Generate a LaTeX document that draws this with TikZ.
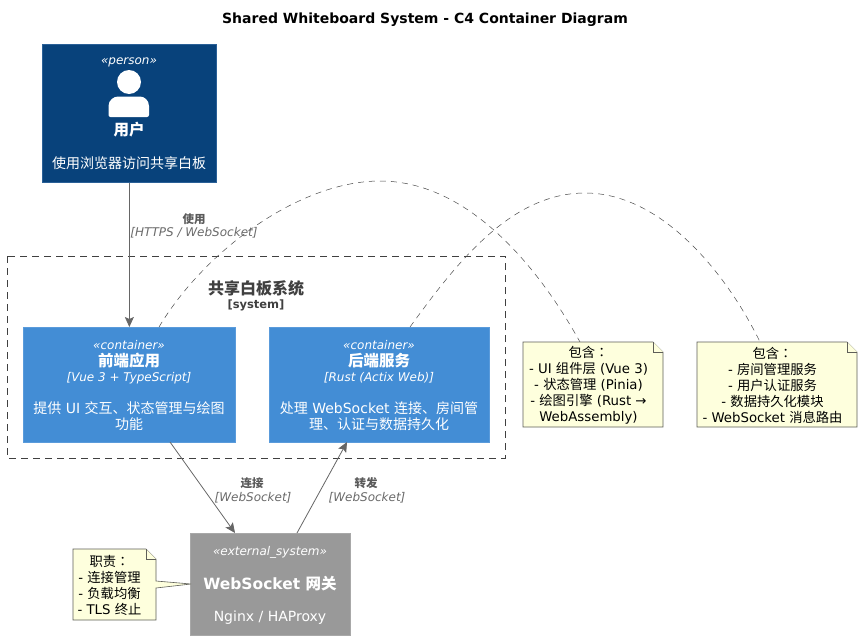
\documentclass[tikz,border=0pt]{standalone}
\usepackage{fontspec}
\usetikzlibrary{arrows.meta}
\setmainfont{DejaVu Sans}
\newfontfamily\cjkfam{Noto Sans CJK SC}
\newfontfamily\cjktc{Noto Sans CJK TC}
\newcommand{\zh}[1]{{\cjkfam #1}}
\newcommand{\zc}{{\cjktc ：}}
\newcommand{\fs}[1]{\fontsize{#1}{#1}\selectfont}
\definecolor{personc}{HTML}{08427B}
\definecolor{personb}{HTML}{2A6097}
\definecolor{contc}{HTML}{438DD5}
\definecolor{contb}{HTML}{5A9BDB}
\definecolor{extc}{HTML}{999999}
\definecolor{extb}{HTML}{A8A8A8}
\definecolor{notec}{HTML}{FEFFDD}
\definecolor{noteb}{HTML}{5E5E58}
\definecolor{linec}{HTML}{666666}
\definecolor{labc}{HTML}{5A5A5A}
\tikzset{
  x=1pt,y=-1pt,
  box/.style={draw=#1,line width=0.7pt,inner sep=0pt},
  txt/.style={inner sep=0pt,anchor=center,text=white,align=center},
  stereo/.style={txt,font=\fs{12}\itshape},
  head/.style={txt,font=\fs{15.5}\bfseries},
  tech/.style={txt,font=\fs{12}\itshape},
  desc/.style={txt,font=\fs{14},text=white},
  lab/.style={inner sep=0pt,text=labc,font=\fs{11.5}\bfseries},
  labi/.style={inner sep=0pt,text=labc!90!white,font=\fs{12}\itshape},
  rel/.style={draw=linec,line width=0.8pt,-{Stealth[length=10pt,width=9pt,inset=2pt,fill=linec]}},
  notel/.style={draw=black!70,line width=0.5pt,dash pattern=on 6pt off 5pt},
  notebox/.style={draw=noteb,fill=notec,line width=0.6pt},
  notet/.style={inner sep=0pt,align=center,text=black,font=\fontsize{13.3}{16}\selectfont},
}
\begin{document}
\begin{tikzpicture}
\useasboundingbox (0,0) rectangle (862,640);
\fill[white] (0,0) rectangle (862,640);
\node[inner sep=0pt,font=\fs{14}\bfseries] (title) at (425,19.5) {Shared Whiteboard System - C4 Container Diagram};

% boundary
\draw[draw=black!75,line width=0.8pt,dash pattern=on 7pt off 5pt] (7,256) rectangle (505,458);
\node[inner sep=0pt,text=black!75,font=\fs{16}\bfseries] (bt) at (256,288) {\zh{共享白板系统}};
\node[inner sep=0pt,text=black!75,font=\fs{11.5}\bfseries] (bs) at (256,305) {[system]};

% boxes
\node[box=personb,fill=personc,minimum width=174pt,minimum height=138pt,anchor=north west] (user) at (42,44) {};
\node[box=contb,fill=contc,minimum width=212pt,minimum height=115pt,anchor=north west] (front) at (23,327) {};
\node[box=contb,fill=contc,minimum width=220pt,minimum height=115pt,anchor=north west] (back) at (269,327) {};
\node[box=extb,fill=extc,minimum width=160pt,minimum height=102pt,anchor=north west] (gw) at (190,533) {};

% note shapes
\coordinate (n1a) at (580,342);
\coordinate (n2a) at (760,342);
\coordinate (fa) at (159,327);
\coordinate (ba) at (410,327);
\draw[notel] (fa) .. controls (205,250) and (300,181) .. (380,181) .. controls (470,181) and (540,270) .. (n1a);
\draw[notel] (ba) .. controls (455,265) and (510,193) .. (585,193) .. controls (665,193) and (730,280) .. (n2a);

\draw[notebox] (523,342) -- (653,342) -- (663,352) -- (663,427) -- (523,427) -- cycle;
\draw[notebox] (653,342) -- (653,352) -- (663,352);
\draw[notebox] (697,342) -- (847,342) -- (857,352) -- (857,427) -- (697,427) -- cycle;
\draw[notebox] (847,342) -- (847,352) -- (857,352);
\draw[notebox] (73,549) -- (146,549) -- (156,559) -- (156,581) -- (191,584) -- (156,588) -- (156,620) -- (73,620) -- cycle;
\draw[notebox] (146,549) -- (146,559) -- (156,559);

% person icon
\fill[white] (129,82) circle (12);
\fill[white,rounded corners=2pt] (108.5,117) -- (108.5,108) .. controls (108.5,100) and (114,96.5) .. (120,96.5) -- (138,96.5) .. controls (144,96.5) and (149,100) .. (149,108) -- (149,117) -- cycle;

% box text
\node[stereo] (t1) at (129,62) {«person»};
\node[head] (t2) at (129,129.5) {\zh{用户}};
\node[desc] (t3) at (129,163) {\zh{使用浏览器访问共享白板}};

\node[stereo] (f1) at (129,345) {«container»};
\node[head] (f2) at (129,361) {\zh{前端应用}};
\node[tech] (f3) at (129,378) {[Vue 3 + TypeScript]};
\node[desc] (f4) at (129,408) {\zh{提供} UI \zh{交互、状态管理与绘图}};
\node[desc] (f5) at (129,424) {\zh{功能}};

\node[stereo] (b1) at (379,345) {«container»};
\node[head] (b2) at (379,361) {\zh{后端服务}};
\node[tech] (b3) at (379,378) {[Rust (Actix Web)]};
\node[desc] (b4) at (379,408) {\zh{处理} WebSocket \zh{连接、房间管}};
\node[desc] (b5) at (379,424) {\zh{理、认证与数据持久化}};

\node[stereo] (g1) at (270,552) {«external\_system»};
\node[head] (g2) at (270,584) {WebSocket \zh{网关}};
\node[desc] (g3) at (270,618) {Nginx / HAProxy};

% note texts
\node[notet] (n1) at (588.5,385.5) {\zh{包含}\zc\\- UI \zh{组件层} (Vue 3)\\- \zh{状态管理} (Pinia)\\- \zh{绘图引擎} (Rust →\\WebAssembly)};
\node[notet] (n2) at (772.5,385.5) {\zh{包含}\zc\\- \zh{房间管理服务}\\- \zh{用户认证服务}\\- \zh{数据持久化模块}\\- WebSocket \zh{消息路由}};
\node[notet] (n3) at (109.5,585) {\zh{职责}\zc\\- \zh{连接管理}\\- \zh{负载均衡}\\- TLS \zh{终止}};

% relations
\coordinate (fs) at (170,442);
\coordinate (gn1) at (235,533);
\coordinate (gn2) at (297,533);
\coordinate (bs2) at (347,442);
\draw[rel] (user.south) -- (user.south |- front.north);
\draw[rel] (fs) -- (gn1);
\draw[rel] (gn2) -- (bs2);

% relation labels
\node[lab] (l1) at (194,219) {\zh{使用}};
\node[labi] (l2) at (194,233) {[HTTPS / WebSocket]};
\node[lab] (l3) at (252,483) {\zh{连接}};
\node[labi] (l4) at (253,498) {[WebSocket]};
\node[lab] (l5) at (366,483) {\zh{转发}};
\node[labi] (l6) at (367,498) {[WebSocket]};
\end{tikzpicture}
\end{document}
